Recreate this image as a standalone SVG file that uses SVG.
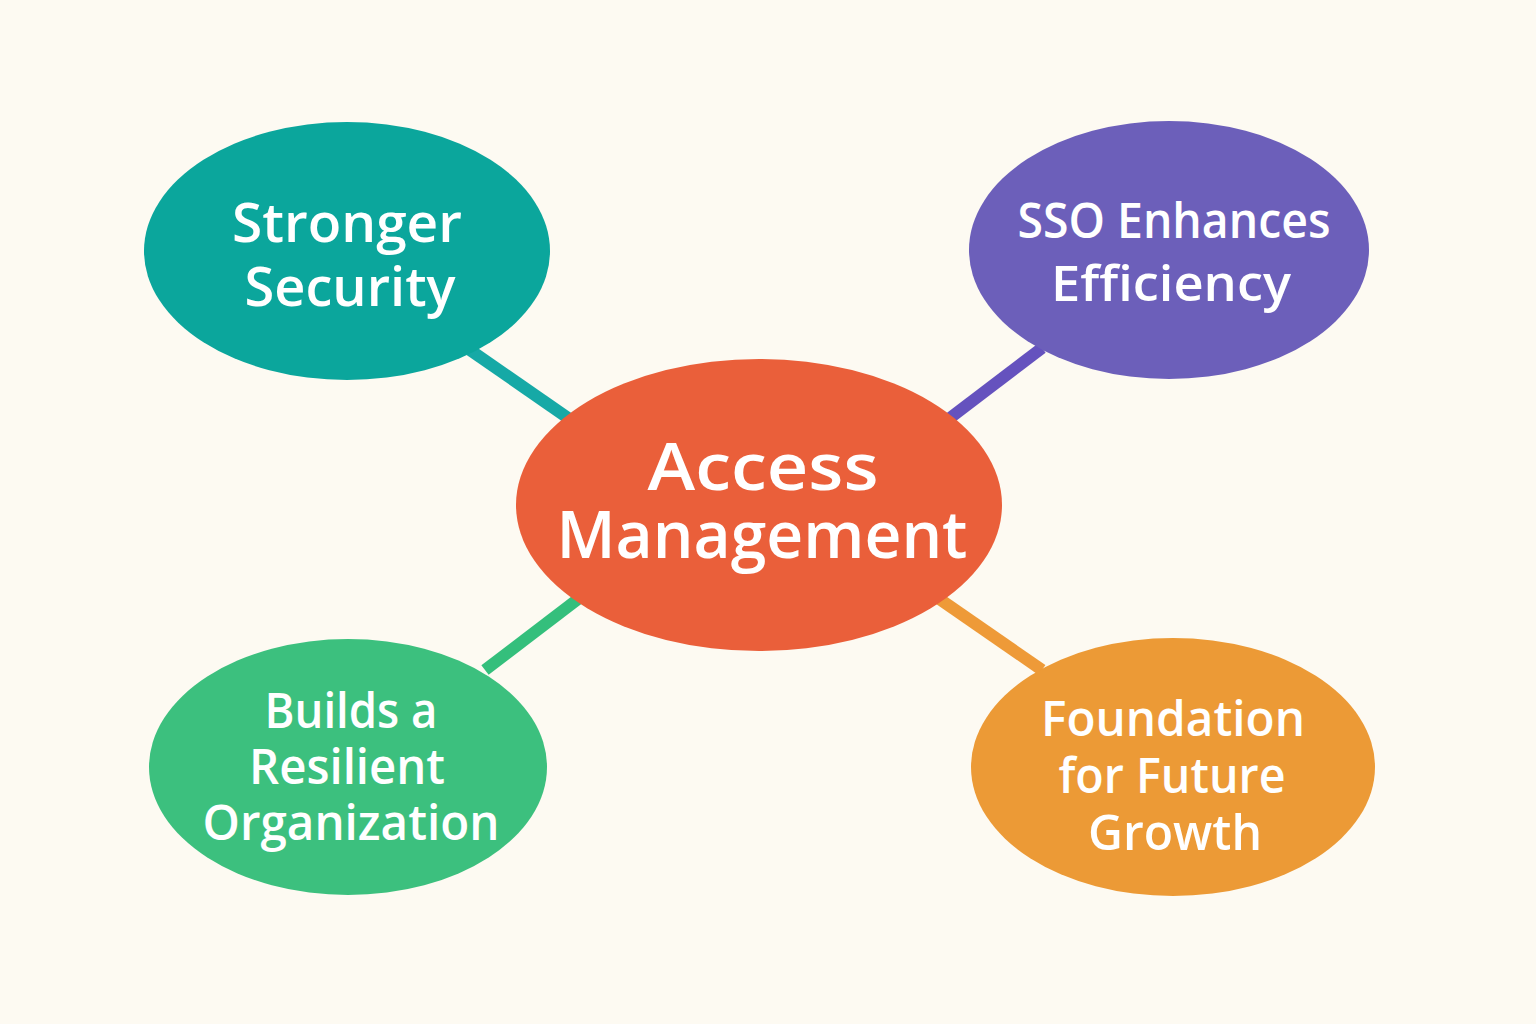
<svg xmlns="http://www.w3.org/2000/svg" width="1536" height="1024" viewBox="0 0 1536 1024">
<style>
.t{fill:#ffffff;font-family:"Open Sans","Noto Sans",sans-serif;font-weight:600;text-anchor:middle}
.c{stroke-width:12;stroke-linecap:butt;fill:none}
</style>
<rect width="1536" height="1024" fill="#FDFAF2"/>
<g id="connectors">
<line class="c" x1="470" y1="350" x2="568" y2="418" stroke="#16A9A6"/>
<line class="c" x1="1042" y1="348" x2="950" y2="418" stroke="#6552BE"/>
<line class="c" x1="485" y1="670" x2="582" y2="596" stroke="#34BF7C"/>
<line class="c" x1="938" y1="598" x2="1042" y2="670" stroke="#EE9A38"/>
</g>
<g id="n-security">
<ellipse cx="347" cy="251" rx="203" ry="129" fill="#0BA69C"/>
<text class="t" x="347" y="242" font-size="54" textLength="230" lengthAdjust="spacingAndGlyphs">Stronger</text>
<text class="t" x="350" y="306" font-size="54" textLength="211" lengthAdjust="spacingAndGlyphs">Security</text>
</g>
<g id="n-sso">
<ellipse cx="1169" cy="250" rx="200" ry="129" fill="#6C5FBA"/>
<text class="t" x="1174" y="238" font-size="48" textLength="313" lengthAdjust="spacingAndGlyphs">SSO Enhances</text>
<text class="t" x="1171" y="301" font-size="48" textLength="240" lengthAdjust="spacingAndGlyphs">Efficiency</text>
</g>
<g id="n-center">
<ellipse cx="759" cy="505" rx="243" ry="146" fill="#EA5F3A"/>
<text class="t" x="763" y="490" font-size="66" textLength="231" lengthAdjust="spacingAndGlyphs">Access</text>
<text class="t" x="762" y="558" font-size="66" textLength="411" lengthAdjust="spacingAndGlyphs">Management</text>
</g>
<g id="n-resilient">
<ellipse cx="348" cy="767" rx="199" ry="128" fill="#3CC07E"/>
<text class="t" x="351" y="728" font-size="48" textLength="173" lengthAdjust="spacingAndGlyphs">Builds a</text>
<text class="t" x="347" y="784" font-size="48" textLength="196" lengthAdjust="spacingAndGlyphs">Resilient</text>
<text class="t" x="351" y="840" font-size="48" textLength="297" lengthAdjust="spacingAndGlyphs">Organization</text>
</g>
<g id="n-growth">
<ellipse cx="1173" cy="767" rx="202" ry="129" fill="#EC9A36"/>
<text class="t" x="1173" y="736" font-size="48" textLength="264" lengthAdjust="spacingAndGlyphs">Foundation</text>
<text class="t" x="1172" y="793" font-size="48" textLength="227" lengthAdjust="spacingAndGlyphs">for Future</text>
<text class="t" x="1175" y="850" font-size="48" textLength="174" lengthAdjust="spacingAndGlyphs">Growth</text>
</g>
</svg>
